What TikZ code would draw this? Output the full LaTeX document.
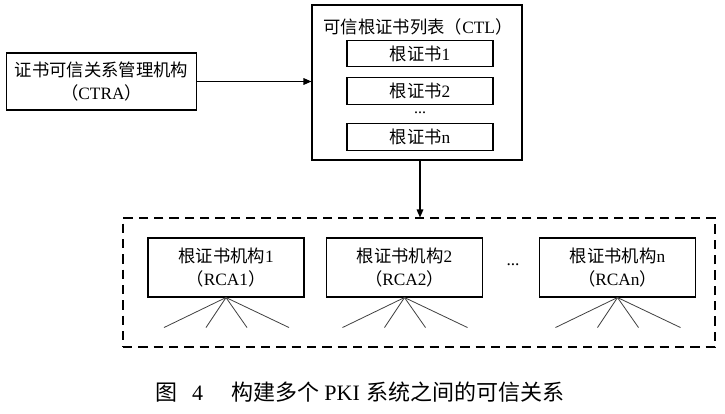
\documentclass[tikz,border=0pt]{standalone}
\usepackage{fontspec}
\setmainfont{Liberation Serif}
\newfontfamily\cjk{Noto Sans CJK SC}
\newcommand{\zh}[1]{{\cjk #1}}
\usetikzlibrary{positioning, arrows.meta}

\begin{document}
\begin{tikzpicture}[x=0.75pt, y=-0.75pt, line width=0.8pt,
		box/.style={draw, align=center, inner sep=0pt, font=\fontsize{13}{16}\selectfont},
		fan/.style={line width=0.6pt, black!75},
		arr/.style={-{Triangle[length=6pt, width=5pt]}}]
			\useasboundingbox (0,0) rectangle (725,414);
			% CTRA
			\node[box, minimum width=143pt, minimum height=42.75pt] (ctra) at (101.5,81.5)
			{\zh{证书可信关系管理机构}\\[1pt]\zh{（}CTRA\zh{）}};
			% CTL list
			\node[draw, minimum width=157.5pt, minimum height=116.25pt] (ctl) at (417,82.5) {};
			\node[font=\fontsize{13}{16}\selectfont] (ctltitle) at (418,27) {\zh{可信根证书列表（}CTL\zh{）}};
			\node[box, minimum width=109.5pt, minimum height=20pt] (cert1) at (420,53.5) {\zh{根证书}1};
			\node[box, minimum width=109.5pt, minimum height=20pt] (cert2) at (420,91) {\zh{根证书}2};
			\node[inner sep=0pt, font=\fontsize{12}{14}\selectfont] (certdots) at (420,113) {...};
			\node[box, minimum width=109.5pt, minimum height=20pt] (certn) at (420,137) {\zh{根证书}n};
			% root CAs
			\node[draw, dashed, dash pattern=on 7pt off 4.5pt, minimum width=444pt, minimum height=96.75pt] (rcas) at (419,282.5) {};
			\node[box, minimum width=117pt, minimum height=44.25pt] (rca1) at (226,267.5)
			{\zh{根证书机构}1\\[1pt]\zh{（}RCA1\zh{）}};
			\node[box, minimum width=117pt, minimum height=44.25pt] (rca2) at (404.5,267.5)
			{\zh{根证书机构}2\\[1pt]\zh{（}RCA2\zh{）}};
			\node[inner sep=0pt, font=\fontsize{13}{16}\selectfont] (rcadots) at (513,265) {...};
			\node[box, minimum width=117pt, minimum height=44.25pt] (rcan) at (617.5,267.5)
			{\zh{根证书机构}n\\[1pt]\zh{（}RCAn\zh{）}};
			% arrows
			\draw[arr] (ctra.east) -- (ctl.west |- ctra.east);
			\draw[arr] (ctl.south -| cert1) -- (rcas.north -| cert1);
			% fans
			\foreach \r in {rca1, rca2, rcan}
			\foreach \dx in {-62,-20,21,63}
			\draw[fan] (\r.south) -- ++(\dx,30);
			% caption
			\node[font=\fontsize{16.5}{20}\selectfont] (caption) at (360,392)
			{\zh{图}\hspace{11pt}4\hspace{21pt}\zh{构建多个}\hspace{4pt}PKI\hspace{5pt}\zh{系统之间的可信关系}};
		\end{tikzpicture}
\end{document}
